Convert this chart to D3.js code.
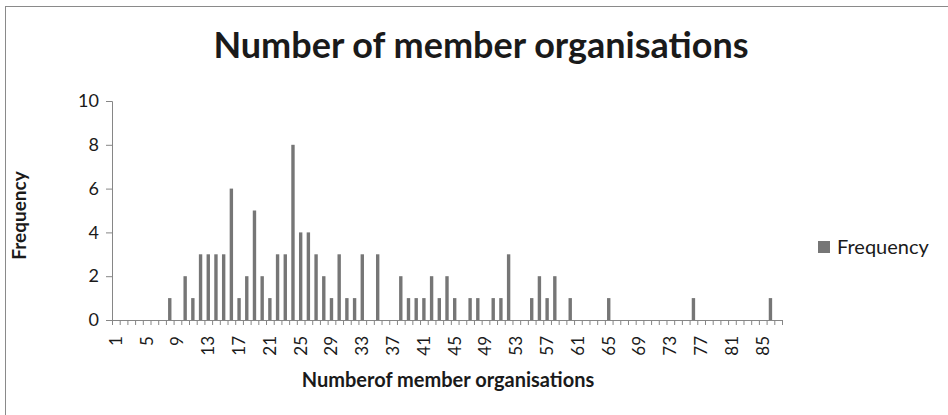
<!DOCTYPE html>
<html>
<head>
<meta charset="utf-8">
<script src="https://cdn.jsdelivr.net/npm/d3@7"></script>
<style>
  body { margin: 0; background: #fff; }
  svg { display: block; }
</style>
</head>
<body>
<div id="chart"></div>
<script>
const WIDTH = 948;
const HEIGHT = 415;

// number of member organisations (category) -> how many cases
const categories = [
  1, 2, 3, 4, 5, 6, 7, 8, 9, 10, 11, 12, 13, 14, 15, 16, 17, 18, 19, 20,
  21, 22, 23, 24, 25, 26, 27, 28, 29, 30, 31, 32, 33, 34, 35, 36, 37, 38, 39, 40,
  41, 42, 43, 44, 45, 46, 47, 48, 49, 50, 51, 52, 53, 54, 55, 56, 57, 58, 59, 60,
  61, 62, 63, 64, 65, 66, 67, 68, 69, 70, 71, 72, 73, 74, 75, 76, 77, 78, 79, 80,
  81, 82, 83, 84, 85, 86, 87
];
const frequency = [
  0, 0, 0, 0, 0, 0, 0, 1, 0, 2, 1, 3, 3, 3, 3, 6, 1, 2, 5, 2,
  1, 3, 3, 8, 4, 4, 3, 2, 1, 3, 1, 1, 3, 0, 3, 0, 0, 2, 1, 1,
  1, 2, 1, 2, 1, 0, 1, 1, 0, 1, 1, 3, 0, 0, 1, 2, 1, 2, 0, 1,
  0, 0, 0, 0, 1, 0, 0, 0, 0, 0, 0, 0, 0, 0, 0, 1, 0, 0, 0, 0,
  0, 0, 0, 0, 0, 1, 0
];
const xTickLabels = [1, 5, 9, 13, 17, 21, 25, 29, 33, 37, 41, 45, 49, 53, 57, 61, 65, 69, 73, 77, 81, 85];
const yTicks = [0, 2, 4, 6, 8, 10];

const data = categories.map((c, i) => ({ cat: c, value: frequency[i] }));

const margin = { left: 112, right: 166, top: 101, bottom: 95 };
const plotW = WIDTH - margin.left - margin.right;
const plotH = HEIGHT - margin.top - margin.bottom;

const font = "Lato, 'Open Sans', sans-serif";
const textColor = '#1a1a1a';
const axisColor = '#868686';
const barColor = '#767676';

const svg = d3.select('#chart')
  .append('svg')
  .attr('width', WIDTH)
  .attr('height', HEIGHT);

// chart frame
svg.append('rect')
  .attr('x', 5.5).attr('y', 6.5)
  .attr('width', 960).attr('height', 420)
  .attr('fill', 'none')
  .attr('stroke', '#8a8a8a');

const g = svg.append('g')
  .attr('transform', `translate(${margin.left},${margin.top})`);

const x = d3.scaleBand()
  .domain(categories)
  .range([0, plotW])
  .paddingInner(0.56)
  .paddingOuter(0.28);

const y = d3.scaleLinear()
  .domain([0, 10])
  .range([plotH, 0]);

// bars
g.selectAll('rect.bar')
  .data(data.filter(d => d.value > 0))
  .enter()
  .append('rect')
  .attr('class', 'bar')
  .attr('x', d => x(d.cat))
  .attr('y', d => y(d.value))
  .attr('width', x.bandwidth())
  .attr('height', d => y(0) - y(d.value))
  .attr('fill', barColor);

// y axis
const yAxis = g.append('g')
  .call(d3.axisLeft(y).tickValues(yTicks).tickSize(6).tickPadding(7));
yAxis.select('.domain').attr('stroke', axisColor);
yAxis.selectAll('.tick line').attr('stroke', axisColor);
yAxis.selectAll('.tick text')
  .attr('fill', textColor)
  .style('font-family', font)
  .style('font-size', '18px');

// x axis: tick marks on category boundaries
const xEdges = d3.scaleLinear().domain([0, categories.length]).range([0, plotW]);
const xTickAxis = g.append('g')
  .attr('transform', `translate(0,${plotH})`)
  .call(d3.axisBottom(xEdges)
    .tickValues(d3.range(categories.length + 1))
    .tickFormat('')
    .tickSize(5)
    .tickSizeOuter(0));
xTickAxis.select('.domain').attr('stroke', axisColor);
xTickAxis.selectAll('.tick line').attr('stroke', axisColor);

// x axis labels on category centres, rotated
const xLabelAxis = g.append('g')
  .attr('transform', `translate(0,${plotH})`)
  .call(d3.axisBottom(x).tickValues(xTickLabels).tickSize(0).tickPadding(0));
xLabelAxis.select('.domain').remove();
xLabelAxis.selectAll('.tick text')
  .attr('fill', textColor)
  .style('font-family', font)
  .style('font-size', '17px')
  .attr('text-anchor', 'end')
  .attr('dy', '0.35em')
  .attr('transform', 'translate(0,16) rotate(-90)')
  .attr('x', 0)
  .attr('y', 0);

// title
svg.append('text')
  .attr('x', 481)
  .attr('y', 58)
  .attr('text-anchor', 'middle')
  .style('font-family', font)
  .style('font-weight', 'bold')
  .style('font-size', '36px')
  .attr('fill', textColor)
  .text('Number of member organisations');

// axis titles
svg.append('text')
  .attr('x', 448)
  .attr('y', 387)
  .attr('text-anchor', 'middle')
  .style('font-family', font)
  .style('font-weight', 'bold')
  .style('font-size', '20px')
  .attr('fill', textColor)
  .text('Numberof member organisations');

svg.append('text')
  .attr('transform', `translate(19,${margin.top + plotH / 2 + 5}) rotate(-90)`)
  .attr('text-anchor', 'middle')
  .attr('dy', '0.35em')
  .style('font-family', font)
  .style('font-weight', 'bold')
  .style('font-size', '19px')
  .attr('fill', textColor)
  .text('Frequency');

// legend
const legend = svg.append('g').attr('transform', 'translate(818,241)');
legend.append('rect')
  .attr('width', 12).attr('height', 12)
  .attr('fill', barColor);
legend.append('text')
  .attr('x', 19)
  .attr('y', 6)
  .attr('dy', '0.35em')
  .style('font-family', font)
  .style('font-size', '20px')
  .attr('fill', textColor)
  .text('Frequency');
</script>
</body>
</html>
